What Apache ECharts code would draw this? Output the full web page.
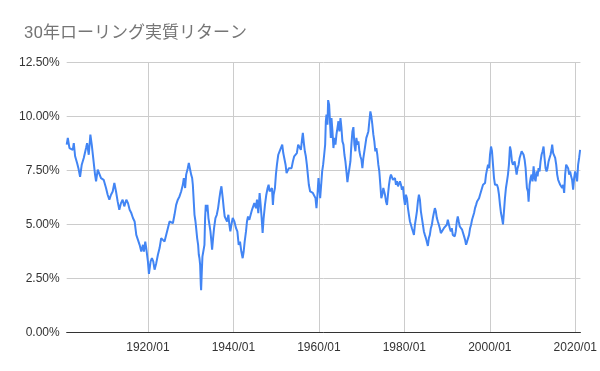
<!DOCTYPE html>
<html><head><meta charset="utf-8">
<script src="https://cdn.jsdelivr.net/npm/echarts@6/dist/echarts.min.js"></script>
<style>html,body{margin:0;padding:0;background:#fff}#c{width:600px;height:371px}</style>
</head><body><div id="c"></div>
<script>
const titleText = '30年ローリング実質リターン';
const xTickYears = [1920, 1940, 1960, 1980, 2000, 2020];
const yTicks = [0, 2.5, 5, 7.5, 10, 12.5];
const years = [
1901.0,1901.26,1901.65,1902.42,1902.66,1902.97,1903.43,1903.74,1904.13,1904.52,1904.99,1905.53,1905.77,1906.16,1906.54,1906.86,1907.24,1907.63,1907.87,1908.26,1908.64,1909.03,1909.65,1910.2,1910.58,1910.98,1911.37,1911.76,1912.15,1912.54,1912.92,1913.31,1913.7,1914.09,1914.47,
1914.95,1915.34,1915.73,1916.12,1916.5,1916.89,1917.28,1917.67,1918.06,1918.45,1918.84,1919.07,1919.38,1919.61,1920.0,1920.24,1920.63,1920.94,1921.25,1921.56,1921.95,1922.34,1922.73,1923.11,1923.5,1923.89,1924.28,1924.67,1925.06,1925.45,1925.84,1926.22,1926.61,1927.0,1927.39,1927.78,1928.17,1928.4,1928.71,1928.95,1929.33,1929.57,
1930.12,1930.35,1930.51,1930.66,1930.9,1931.13,1931.29,1931.52,1931.75,1931.91,1932.06,1932.22,1932.37,1932.45,1932.61,1932.76,1932.99,1933.23,1933.38,1933.54,1933.7,1933.93,1934.16,1934.4,1934.63,1934.86,1935.02,1935.25,1935.48,1935.8,1936.11,1936.42,1936.73,1936.96,1937.2,1937.51,1937.74,1937.97,1938.28,1938.52,1938.83,1939.06,1939.29,1939.53,1939.84,1940.23,1940.62,1940.93,1941.24,1941.55,1941.86,1942.17,1942.41,1942.64,1942.95,1943.18,1943.42,1943.73,1944.04,1944.35,1944.66,
1944.9,1945.29,1945.52,1945.83,1946.14,1946.38,1946.61,1946.84,1947.08,1947.39,1947.7,1948.01,1948.24,1948.48,1948.79,1949.02,1949.25,1949.41,1949.72,1949.95,1950.19,1950.5,1950.81,1951.12,1951.43,1951.67,1951.9,1952.21,1952.44,1952.68,1952.99,1953.3,1953.61,1953.92,1954.23,1954.54,1954.85,1955.16,1955.48,1955.79,1956.1,1956.25,1956.49,1956.72,1956.95,1957.19,1957.42,1957.65,1957.96,1958.27,1958.59,1958.9,1959.21,1959.44,1959.67,1959.91,
1960.07,1960.3,1960.54,1960.77,1961.0,1961.24,1961.47,1961.63,1961.78,1962.01,1962.17,1962.4,1962.64,1962.79,1962.95,1963.18,1963.41,1963.65,1963.88,1964.11,1964.35,1964.58,1964.81,1965.05,1965.28,1965.51,1965.75,1965.98,1966.21,1966.45,1966.68,1966.91,1967.15,1967.38,1967.61,1967.85,1968.08,1968.31,1968.55,1968.78,1969.01,1969.25,1969.48,1969.71,1969.95,1970.18,1970.41,1970.65,1970.88,1971.11,1971.35,1971.58,1971.81,1972.05,1972.28,1972.51,1972.75,1972.98,1973.21,1973.45,1973.68,1973.91,1974.14,1974.38,1974.61,1974.84,1975.08,
1975.24,1975.47,1975.71,1975.94,1976.17,1976.41,1976.64,1976.87,1977.11,1977.34,1977.57,1977.81,1978.04,1978.27,1978.51,1978.74,1978.97,1979.21,1979.44,1979.67,1979.91,1980.14,1980.37,1980.61,1980.84,1981.07,1981.31,1981.54,1981.77,1982.01,1982.24,1982.47,1982.71,1982.94,1983.17,1983.41,1983.64,1983.87,1984.11,1984.34,1984.57,1984.8,1985.04,1985.27,1985.5,1985.74,1985.97,1986.2,1986.44,1986.67,1986.9,1987.14,1987.37,1987.6,1987.84,1988.07,1988.3,1988.54,1988.77,1989.0,1989.24,1989.47,1989.7,1989.94,1990.17,
1990.4,1990.63,1990.87,1991.1,1991.33,1991.57,1991.8,1992.03,1992.27,1992.5,1992.73,1992.97,1993.2,1993.51,1993.74,1993.98,1994.21,1994.44,1994.68,1994.91,1995.14,1995.38,1995.61,1995.84,1996.08,1996.31,1996.54,1996.78,1997.01,1997.24,1997.48,1997.71,1997.94,1998.18,1998.41,1998.64,1998.88,1999.11,1999.34,1999.58,1999.81,2000.04,2000.28,2000.51,2000.74,2000.98,2001.21,2001.44,2001.68,2001.91,2002.14,2002.38,2002.61,2002.84,2003.08,2003.31,2003.54,2003.77,2004.01,2004.24,2004.47,2004.71,2004.94,2005.17,2005.41,
2005.57,2005.8,2006.04,2006.27,2006.5,2006.74,2006.97,2007.2,2007.44,2007.67,2007.9,2008.14,2008.37,2008.52,2008.68,2008.91,2009.07,2009.3,2009.54,2009.77,2010.0,2010.24,2010.47,2010.7,2010.94,2011.17,2011.4,2011.64,2011.87,2012.1,2012.34,2012.57,2012.8,2013.04,2013.27,2013.5,2013.74,2013.97,2014.2,2014.43,2014.59,2014.82,2015.06,2015.29,2015.53,2015.76,2015.99,2016.22,2016.46,2016.69,2016.93,2017.16,2017.39,2017.62,2017.86,2018.09,2018.32,2018.56,2018.79,2019.02,2019.25,2019.49,2019.72,2019.96,2020.19,2020.42,2020.66,2020.89,2021.12
];
const returns = [
8.69,9.0,8.53,8.45,8.76,8.15,7.84,7.6,7.2,7.76,8.07,8.53,8.76,8.22,9.15,8.69,8.6,7.3,6.99,7.53,7.45,7.14,7.06,6.68,6.37,6.14,6.37,6.52,6.91,6.52,6.06,5.67,5.98,6.14,5.83,
6.14,5.98,5.67,5.52,5.29,5.13,4.51,4.28,4.05,3.74,4.05,3.74,4.2,3.9,3.28,2.7,3.28,3.43,3.28,2.9,3.2,3.59,3.9,4.36,4.44,4.2,4.13,4.82,5.13,5.21,5.05,5.44,5.9,6.14,6.29,6.52,6.83,7.14,6.68,7.3,7.6,7.84,
7.3,7.14,6.83,6.3,5.44,5.13,4.82,4.36,4.05,3.59,3.43,3.12,2.2,1.95,2.82,3.51,3.43,4.05,5.29,5.9,5.6,5.9,5.29,4.98,4.67,4.2,3.82,4.36,4.82,5.29,5.44,5.75,6.21,6.52,6.76,6.21,5.75,5.36,5.44,5.13,5.44,4.98,4.67,4.98,5.29,5.13,4.82,4.67,4.05,4.2,3.74,3.43,3.74,4.2,4.67,5.13,5.36,5.21,5.44,5.67,5.6,
5.98,5.75,6.14,5.52,6.45,5.9,5.29,4.6,5.29,5.9,6.37,6.68,6.83,6.52,6.52,6.68,5.9,6.37,6.68,7.3,7.76,8.22,8.38,8.38,8.69,8.3,8.07,7.76,7.37,7.45,7.6,7.53,7.6,7.91,8.15,8.22,8.3,8.69,8.61,8.45,9.0,9.23,8.76,8.38,8.15,7.76,7.3,6.83,6.52,6.6,6.45,6.52,6.21,5.75,6.37,7.14,
6.83,6.21,6.83,7.45,7.76,8.22,8.69,9.77,10.08,9.61,10.75,10.54,9.61,9.0,9.92,9.3,8.53,9.0,8.69,9.15,9.46,9.77,9.3,9.92,9.46,8.84,8.69,8.22,7.91,7.45,6.95,7.3,7.6,7.91,8.69,9.3,9.5,8.69,8.38,9.0,8.69,8.84,8.38,8.15,8.0,7.6,8.07,8.15,8.69,9.0,9.15,9.3,9.77,10.23,10.0,9.61,9.15,8.84,8.38,8.53,8.22,7.76,7.45,6.83,6.21,6.37,6.68,
6.68,6.37,6.06,5.9,6.37,6.83,7.14,7.3,7.22,7.06,6.99,7.14,6.83,6.99,6.76,6.83,6.99,6.83,6.6,6.76,6.21,5.9,6.37,6.21,5.75,5.44,5.13,4.98,4.82,4.67,4.51,4.98,5.29,5.6,6.06,6.37,6.14,5.6,5.29,4.98,4.67,4.51,4.36,4.28,4.0,4.36,4.51,4.82,4.98,5.29,5.52,5.75,5.6,5.29,5.13,4.98,4.82,4.59,4.51,4.67,4.82,4.9,4.82,4.98,5.21,
5.13,4.82,4.67,4.82,4.51,4.59,4.44,4.67,5.13,5.36,5.13,4.9,4.82,4.75,4.67,4.44,4.28,4.05,4.2,4.36,4.51,4.82,4.98,5.21,5.29,5.52,5.75,5.9,6.06,6.14,6.21,6.37,6.52,6.68,6.83,6.76,6.91,7.3,7.53,7.76,7.6,8.22,8.6,8.38,7.76,7.14,6.83,6.91,6.83,6.68,6.37,5.9,5.52,5.29,5.0,5.6,6.21,6.68,6.99,7.3,7.76,8.6,8.38,7.91,7.76,
7.76,7.91,7.6,7.3,7.6,7.76,8.07,8.22,8.38,8.45,8.22,7.99,7.6,7.14,6.68,6.52,6.05,6.83,7.14,7.3,6.99,7.68,7.14,6.99,7.45,7.22,7.6,7.45,7.91,8.22,8.38,8.6,8.07,7.6,7.45,7.6,7.91,8.07,8.22,8.45,8.69,8.3,8.22,8.07,7.76,7.3,7.06,6.99,6.83,6.91,6.68,6.83,6.45,7.3,7.76,7.76,7.6,7.3,7.45,7.22,7.06,6.6,7.14,7.45,7.22,6.99,7.76,8.07,8.45
];
const chart = echarts.init(document.getElementById('c'), null, {renderer: 'canvas'});
const seriesData = years.map((y, i) => [y, returns[i]]);
chart.setOption({
  animation: false,
  backgroundColor: '#ffffff',
  title: {
    text: titleText, left: 19, top: 20,
    textStyle: {color: '#757575', fontSize: 17, fontWeight: 'normal', fontFamily: 'Roboto, "Noto Sans CJK JP", sans-serif'}
  },
  grid: {left: 66.7, right: 18, top: 62.3, bottom: 38.7, containLabel: false},
  xAxis: {
    type: 'value', min: 1901, max: 2021.2,
    axisLine: {show: true, lineStyle: {color: '#333333', width: 1}},
    axisTick: {show: false, customValues: xTickYears},
    axisLabel: {customValues: xTickYears, formatter: v => Math.round(v) + '/01', color: '#333333', fontSize: 12, margin: 9, fontFamily: '"Liberation Sans", Arial, sans-serif'},
    splitLine: {show: true, lineStyle: {color: '#cccccc', width: 1}}
  },
  yAxis: {
    type: 'value', min: 0, max: 12.5, interval: 2.5,
    axisLine: {show: false}, axisTick: {show: false},
    axisLabel: {formatter: v => v.toFixed(2) + '%', color: '#333333', fontSize: 12, margin: 7, fontFamily: '"Liberation Sans", Arial, sans-serif'},
    splitLine: {show: true, lineStyle: {color: '#cccccc', width: 1}}
  },
  series: [{
    type: 'line', data: seriesData, showSymbol: false, symbol: 'none',
    lineStyle: {color: '#4285f4', width: 2}, itemStyle: {color: '#4285f4'}
  }]
});
</script></body></html>
